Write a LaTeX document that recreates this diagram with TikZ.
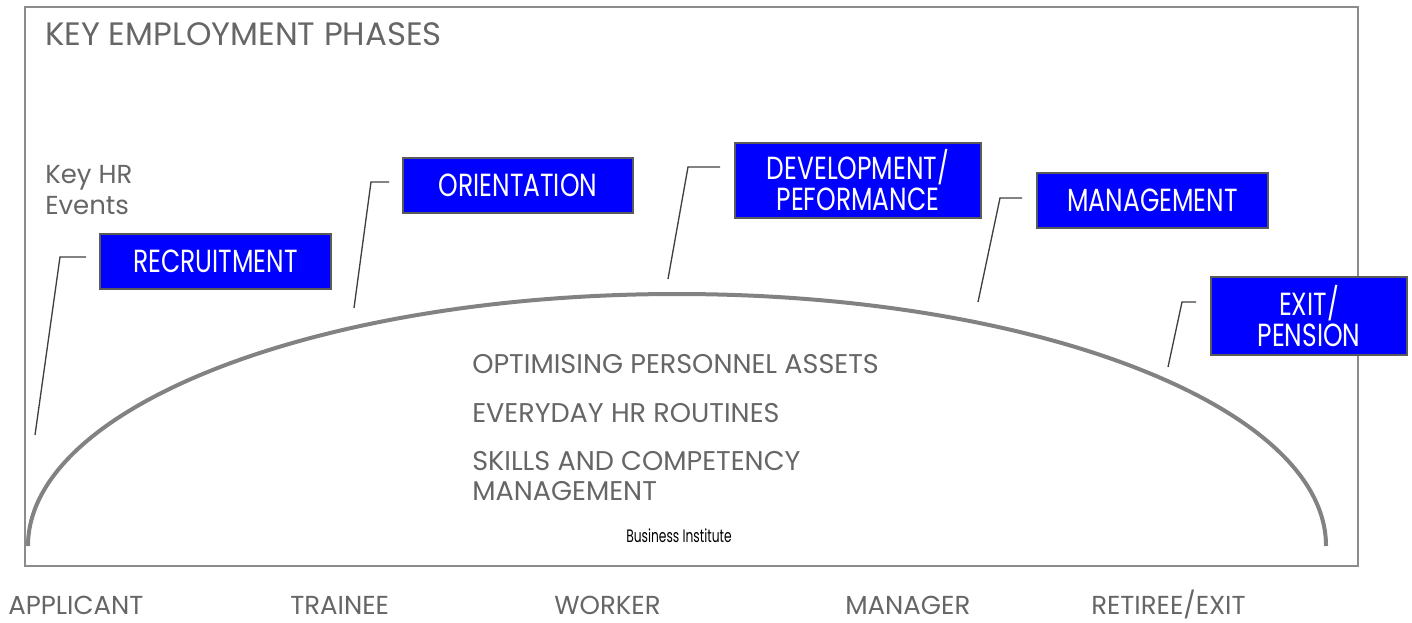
\documentclass[tikz,border=0pt]{standalone}
\usepackage{fontspec}
\setmainfont{Poppins}
\newfontfamily\boxfont{Poppins}[FakeStretch=0.78]
\newfontfamily\notefont{Poppins}[FakeStretch=0.68]
\usetikzlibrary{calc}
\usepackage{xcolor}

\definecolor{phasegray}{HTML}{666666}
\definecolor{framegray}{HTML}{8C8C8C}
\definecolor{archgray}{HTML}{828282}
\definecolor{leadgray}{HTML}{404040}
\definecolor{boxedge}{HTML}{5A5A5A}
\definecolor{eventblue}{HTML}{0000FF}

\tikzset{
  event/.style={draw=boxedge, line width=1.1pt, fill=eventblue, text=white,
    font=\boxfont\fontsize{24}{23.25}\selectfont, align=center, inner sep=0pt},
  leader/.style={draw=leadgray, line width=1pt},
  phase/.style={anchor=base west, text=phasegray, inner sep=0pt},
}

\begin{document}
\begin{tikzpicture}[x=0.75pt,y=-0.75pt]
      \useasboundingbox (0,0) rectangle (1412,622);

      % Frame
      \draw[framegray, line width=0.9pt] (25,7) rectangle (1358,566);
      \node[phase, font=\fontsize{24.3}{28}\selectfont] (title) at (45,45) {KEY EMPLOYMENT PHASES};
      \node[phase, font=\fontsize{19.5}{23}\selectfont] (keyhr) at (45,183) {Key HR};
      \node[phase, font=\fontsize{19.5}{23}\selectfont] (events) at (45,214) {Events};

      % Arch
      \coordinate (archL) at (28,546);
      \draw[archgray, line width=3pt] (archL) arc[start angle=180, end angle=0, x radius=486.75pt, y radius=189pt];

      % Events
      \node[event, minimum width=173.25pt, minimum height=41.25pt] (rec) at (215.5,261.5) {RECRUITMENT};
      \node[event, minimum width=172.5pt, minimum height=41.25pt] (ori) at (518,185.5) {ORIENTATION};
      \node[event, minimum width=184.5pt, minimum height=56.25pt] (dev) at (858,180.5) {DEVELOPMENT/\\PEFORMANCE};
      \node[event, minimum width=173.25pt, minimum height=41.25pt] (man) at (1152.5,200.5) {MANAGEMENT};
      \node[event, minimum width=147pt, minimum height=58.5pt] (exit) at (1309,316) {EXIT/\\PENSION};

      % Leaders
      \foreach \n/\fx/\fy/\kx/\ky/\ex in {rec/35/435/60/257/86, ori/354/308/371/182/389,
        dev/668/279/688/167/720, man/978/302/1000/198/1022, exit/1168/367/1182/302/1196}
      {
        \coordinate (F\n) at (\fx,\fy);
        \coordinate (K\n) at (\kx,\ky);
        \coordinate (E\n) at (\ex,\ky);
        \draw[leader] (F\n) -- (K\n) -- (E\n);
      }

      % Inside the arch
      \node[phase, font=\fontsize{20.3}{24}\selectfont] (opt) at (472,373) {OPTIMISING PERSONNEL ASSETS};
      \node[phase, font=\fontsize{20.3}{24}\selectfont] (routine) at (472,422) {EVERYDAY HR ROUTINES};
      \node[phase, font=\fontsize{20.3}{24}\selectfont] (skills) at (472,470) {SKILLS AND COMPETENCY};
      \node[phase, font=\fontsize{20.3}{24}\selectfont] (skillsb) at (472,500) {MANAGEMENT};
      \node[anchor=base, inner sep=0pt, font=\notefont\fontsize{13.5}{16}\selectfont] (inst) at (679,542) {Business Institute};

      % Stages
      \node[phase, font=\fontsize{19.5}{23}\selectfont] (applicant) at (8,614) {APPLICANT};
      \node[phase, font=\fontsize{19.5}{23}\selectfont] (trainee) at (290,614) {TRAINEE};
      \node[phase, font=\fontsize{19.5}{23}\selectfont] (worker) at (554,614) {WORKER};
      \node[phase, font=\fontsize{19.5}{23}\selectfont] (manager) at (845,614) {MANAGER};
      \node[phase, font=\fontsize{19.5}{23}\selectfont] (retiree) at (1091,614) {RETIREE/EXIT};
\end{tikzpicture}
\end{document}
